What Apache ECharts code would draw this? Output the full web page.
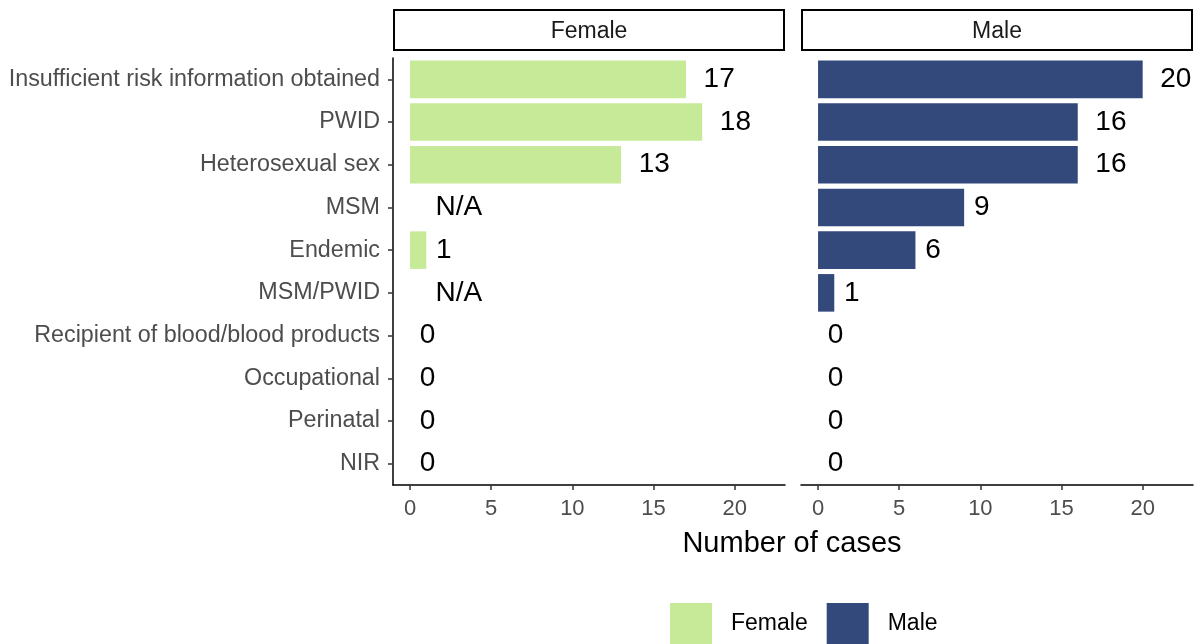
<!DOCTYPE html>
<html>
<head>
<meta charset="utf-8">
<script src="https://cdn.jsdelivr.net/npm/echarts@6/dist/echarts.min.js"></script>
<style>
  html, body { margin: 0; padding: 0; background: #fff; }
  #chart { width: 1199px; height: 644px; }
</style>
</head>
<body>
<div id="chart"></div>
<script>
// categories, top to bottom
const categories = ['Insufficient risk information obtained', 'PWID', 'Heterosexual sex', 'MSM', 'Endemic',
  'MSM/PWID', 'Recipient of blood/blood products', 'Occupational', 'Perinatal', 'NIR'];
// null = N/A
const female = [17, 18, 13, null, 1, null, 0, 0, 0, 0];
const male = [20, 16, 16, 9, 6, 1, 0, 0, 0, 0];
const xTicks = [0, 5, 10, 15, 20];

const FEMALE = '#C6EA97';
const MALE = '#33497C';
const FONT = 'Liberation Sans, Arial, sans-serif';

const chart = echarts.init(document.getElementById('chart'));

// label sits a little right of the bar end (ggplot hjust ~ -0.5)
function toItems(values) {
  return values.map(v => {
    const txt = v == null ? 'N/A' : String(v);
    return {
      value: v == null ? 0 : v,
      label: {
        show: true,
        position: 'right',
        distance: 2 + txt.length * 7.8,
        formatter: txt
      }
    };
  });
}

const xAxisBase = {
  type: 'value',
  min: -1.05,
  max: 23.1,
  splitLine: { show: false },
  axisLine: { show: true, onZero: false, lineStyle: { color: '#000', width: 1.5 } },
  axisTick: { show: true, length: 5, customValues: xTicks, lineStyle: { color: '#333', width: 1.5 } },
  axisLabel: { customValues: xTicks, color: '#4d4d4d', fontSize: 22, fontFamily: FONT, margin: 13 }
};

const barBase = {
  type: 'bar',
  barWidth: '88%',
  label: { color: '#000', fontSize: 28, fontFamily: FONT },
  animation: false
};

chart.setOption({
  backgroundColor: '#fff',
  textStyle: { fontFamily: FONT },
  grid: [
    { left: 393, right: 414, top: 58, height: 427 },
    { left: 801, right: 6, top: 58, height: 427 }
  ],
  legend: {
    top: 603,
    left: 670,
    padding: 0,
    itemWidth: 42,
    itemHeight: 42,
    itemGap: 19,
    icon: 'rect',
    textStyle: { fontSize: 23, color: '#000', fontFamily: FONT, padding: [8, 0, 0, 14] },
    data: ['Female', 'Male']
  },
  xAxis: [
    Object.assign({ gridIndex: 0 }, xAxisBase),
    Object.assign({ gridIndex: 1 }, xAxisBase)
  ],
  yAxis: [{
    gridIndex: 0,
    type: 'category',
    inverse: true,
    data: categories,
    axisLine: { show: true, onZero: false, lineStyle: { color: '#000', width: 1.5 } },
    axisTick: { show: true, alignWithLabel: true, length: 5, lineStyle: { color: '#333', width: 1.5 } },
    axisLabel: { color: '#4d4d4d', fontSize: 23.3, fontFamily: FONT, margin: 13 }
  }, {
    gridIndex: 1,
    type: 'category',
    inverse: true,
    data: categories,
    axisLine: { show: false },
    axisTick: { show: false },
    axisLabel: { show: false }
  }],
  series: [
    Object.assign({}, barBase, { name: 'Female', xAxisIndex: 0, yAxisIndex: 0, itemStyle: { color: FEMALE }, data: toItems(female) }),
    Object.assign({}, barBase, { name: 'Male', xAxisIndex: 1, yAxisIndex: 1, itemStyle: { color: MALE }, data: toItems(male) })
  ],
  graphic: [
    { type: 'rect', shape: { x: 394, y: 10, width: 390, height: 40 }, style: { fill: '#fff', stroke: '#000', lineWidth: 2 } },
    { type: 'text', x: 589, y: 32, style: { text: 'Female', font: '23px ' + FONT, fill: '#1a1a1a', align: 'center', verticalAlign: 'middle' } },
    { type: 'rect', shape: { x: 802, y: 10, width: 390, height: 40 }, style: { fill: '#fff', stroke: '#000', lineWidth: 2 } },
    { type: 'text', x: 997, y: 32, style: { text: 'Male', font: '23px ' + FONT, fill: '#1a1a1a', align: 'center', verticalAlign: 'middle' } },
    { type: 'text', x: 792, y: 544, style: { text: 'Number of cases', font: '29px ' + FONT, fill: '#000', align: 'center', verticalAlign: 'middle' } }
  ]
});
</script>
</body>
</html>
